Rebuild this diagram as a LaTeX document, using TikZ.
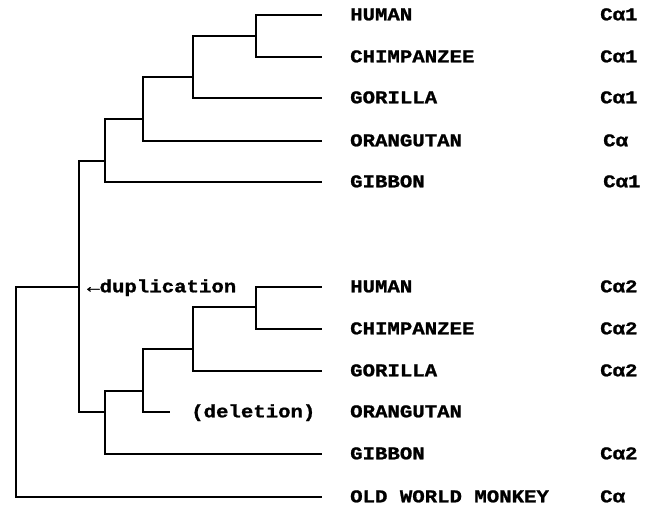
\documentclass[tikz,border=0pt]{standalone}
\usepackage{fontspec}
\newfontfamily\labelfont[FakeStretch=1.15,FakeBold=1.2]{Liberation Mono Bold}
\begin{document}
\begin{tikzpicture}[x=1pt,y=-1pt,
  branch/.style={line width=1.8pt,line cap=rect},
  taxon/.style={font=\labelfont\fontsize{18}{20}\selectfont,anchor=base west,inner sep=0pt,yshift=-5.3pt},
  gene/.style={taxon}]
\useasboundingbox (0,0) rectangle (651,505);

% leaf ends
\coordinate (h1) at (321,15);
\coordinate (c1) at (321,57);
\coordinate (g1) at (321,98);
\coordinate (o1) at (321,141);
\coordinate (b1) at (321,182);
\coordinate (h2) at (321,287);
\coordinate (c2) at (321,329);
\coordinate (g2) at (321,371);
\coordinate (o2) at (169,412);
\coordinate (b2) at (321,454);
\coordinate (owm) at (321,497);

% internal nodes
\coordinate (hc1) at (256,36);
\coordinate (hcg1) at (193,77);
\coordinate (hcgo1) at (143,119);
\coordinate (grp1) at (105,161);
\coordinate (hc2) at (256,307);
\coordinate (hcg2) at (193,349);
\coordinate (hcgo2) at (143,391);
\coordinate (grp2) at (105,412);
\coordinate (dup) at (79,287);
\coordinate (root) at (16,392);

% branches
\draw[branch] (hc1) |- (h1);   \draw[branch] (hc1) |- (c1);
\draw[branch] (hcg1) |- (hc1); \draw[branch] (hcg1) |- (g1);
\draw[branch] (hcgo1) |- (hcg1); \draw[branch] (hcgo1) |- (o1);
\draw[branch] (grp1) |- (hcgo1); \draw[branch] (grp1) |- (b1);
\draw[branch] (hc2) |- (h2);   \draw[branch] (hc2) |- (c2);
\draw[branch] (hcg2) |- (hc2); \draw[branch] (hcg2) |- (g2);
\draw[branch] (hcgo2) |- (hcg2); \draw[branch] (hcgo2) |- (o2);
\draw[branch] (grp2) |- (hcgo2); \draw[branch] (grp2) |- (b2);
\draw[branch] (dup) |- (grp1); \draw[branch] (dup) |- (grp2);
\draw[branch] (root) |- (dup); \draw[branch] (root) |- (owm);

% taxa
\node[taxon] (th1) at (350,15) {HUMAN};
\node[taxon] (tc1) at (350,57) {CHIMPANZEE};
\node[taxon] (tg1) at (350,98) {GORILLA};
\node[taxon] (to1) at (350,141) {ORANGUTAN};
\node[taxon] (tb1) at (350,182) {GIBBON};
\node[taxon] (th2) at (350,287) {HUMAN};
\node[taxon] (tc2) at (350,329) {CHIMPANZEE};
\node[taxon] (tg2) at (350,371) {GORILLA};
\node[taxon] (to2) at (350,412) {ORANGUTAN};
\node[taxon] (tb2) at (350,454) {GIBBON};
\node[taxon] (towm) at (350,497) {OLD WORLD MONKEY};

% gene labels
\node[gene] (ga1) at (600,15) {Cα1};
\node[gene] (ga2) at (600,57) {Cα1};
\node[gene] (ga3) at (600,98) {Cα1};
\node[gene] (ga4) at (603,141) {Cα};
\node[gene] (ga5) at (603,182) {Cα1};
\node[gene] (gb1) at (600,287) {Cα2};
\node[gene] (gb2) at (600,329) {Cα2};
\node[gene] (gb3) at (600,371) {Cα2};
\node[gene] (gb5) at (600,454) {Cα2};
\node[gene] (gowm) at (600,497) {Cα};

% events
\node[taxon] (dupl) at (87,287) {←duplication};
\node[taxon] (del) at (191,412) {(deletion)};
\end{tikzpicture}
\end{document}
